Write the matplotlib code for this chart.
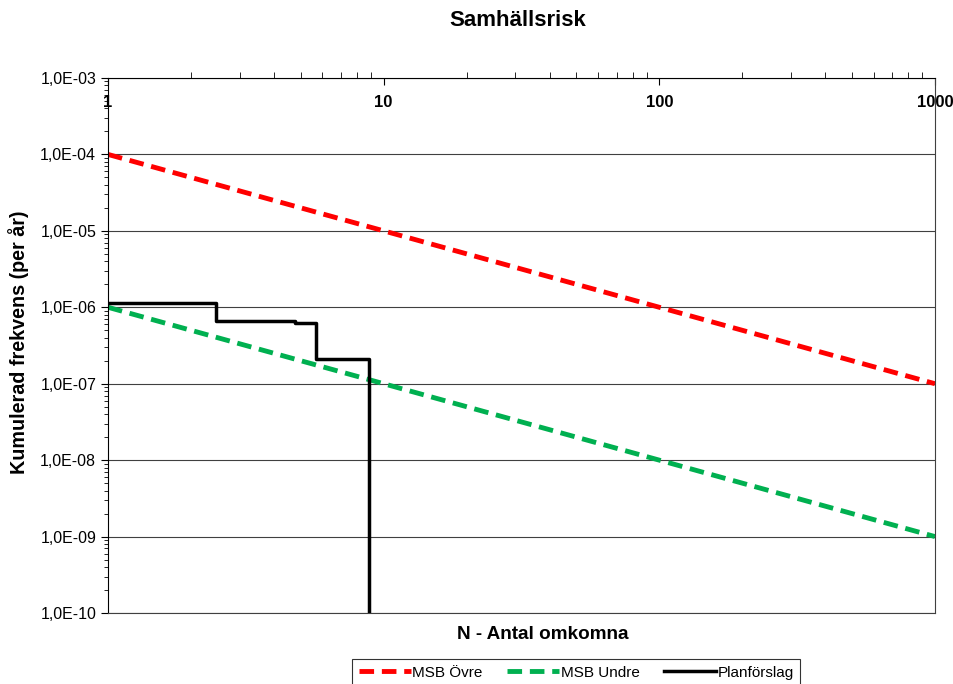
import matplotlib
matplotlib.use('Agg')
import matplotlib.pyplot as plt
import numpy as np
from matplotlib.ticker import LogLocator, NullFormatter

plt.rcParams['font.family'] = ['Liberation Sans', 'DejaVu Sans']

# MSB criteria lines (N, F)
msb_n = [1, 1000]
msb_ovre = [1e-4, 1e-7]
msb_undre = [1e-6, 1e-9]

# Planförslag step curve
plan_n = [1, 2.46, 4.77, 5.68, 8.82, 8.82]
plan_f = [1.13e-6, 6.56e-7, 6.2e-7, 2.1e-7, 2.1e-7, 1e-11]

x_ticks = [1, 10, 100, 1000]
y_ticks = [1e-10, 1e-9, 1e-8, 1e-7, 1e-6, 1e-5, 1e-4, 1e-3]
y_labels = ['1,0E-10', '1,0E-09', '1,0E-08', '1,0E-07', '1,0E-06', '1,0E-05', '1,0E-04', '1,0E-03']

fig = plt.figure(figsize=(9.54, 6.84), dpi=100)
ax = fig.add_axes([0.1132, 0.1038, 0.8668, 0.7822])

ax.plot(msb_n, msb_ovre, color='#ff0000', lw=3.5, ls=(0, (3, 1.6)), label='MSB Övre')
ax.plot(msb_n, msb_undre, color='#00b050', lw=3.5, ls=(0, (3, 1.6)), label='MSB Undre')
ax.step(plan_n, plan_f, where='post', color='black', lw=2.5, label='Planförslag')

ax.set_xscale('log')
ax.set_yscale('log')
ax.set_xlim(1, 1000)
ax.set_ylim(1e-10, 1e-3)

ax.set_yticks(y_ticks)
ax.set_yticklabels(y_labels, fontsize=11.5)
ax.yaxis.set_minor_locator(LogLocator(base=10, subs=np.arange(2, 10)))
ax.yaxis.set_minor_formatter(NullFormatter())
ax.tick_params(axis='y', which='major', length=5, direction='out')
ax.tick_params(axis='y', which='minor', length=3, direction='out')

ax.xaxis.set_ticks_position('top')
ax.set_xticks(x_ticks)
ax.set_xticklabels(['1', '10', '100', '1000'], fontsize=12, fontweight='bold')
ax.xaxis.set_minor_locator(LogLocator(base=10, subs=np.arange(2, 10)))
ax.xaxis.set_minor_formatter(NullFormatter())
ax.tick_params(axis='x', which='major', length=5, direction='in', pad=-23)
ax.tick_params(axis='x', which='minor', length=4, direction='out')

ax.grid(axis='y', which='major', color='#404040', lw=0.8)
ax.set_axisbelow(True)
for s in ax.spines.values():
    s.set_color('#404040')
ax.spines['left'].set_color('black')
ax.spines['top'].set_color('black')

fig.text(0.543, 0.970, 'Samhällsrisk', ha='center', va='center', fontsize=16, fontweight='bold')
fig.text(0.569, 0.072, 'N - Antal omkomna', ha='center', va='center', fontsize=13.6, fontweight='bold')
fig.text(0.019, 0.499, 'Kumulerad frekvens (per år)', ha='center', va='center', rotation=90,
         fontsize=14.2, fontweight='bold')

leg = fig.legend(loc='upper center', bbox_to_anchor=(0.604, 0.048), ncol=3, fontsize=11,
                 frameon=True, fancybox=False, edgecolor='black', handlelength=3.4,
                 handletextpad=0.1, columnspacing=1.6, borderpad=0.45)
leg.get_frame().set_linewidth(0.8)

fig.savefig('out.png', dpi=100)
plt.close()
